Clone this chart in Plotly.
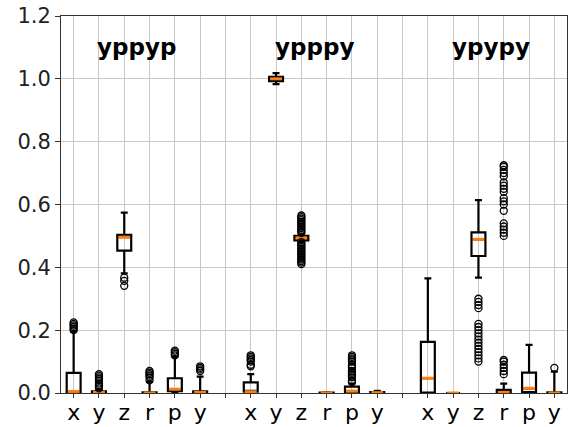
import plotly.graph_objects as go

group_names = ["yppyp", "ypppy", "ypypy"]
var_labels = ["x", "y", "z", "r", "p", "y"]

# 18 boxes: 3 groups x 6 variables
q1 = [0.0, 0.0, 0.453, 0.0, 0.006, 0.0,
      0.004, 0.993, 0.486, 0.0, 0.001, 0.0,
      0.001, 0.0, 0.436, 0.0, 0.003, 0.0]
median = [0.005, 0.002, 0.496, 0.0, 0.012, 0.002,
          0.004, 1.0, 0.494, 0.0, 0.006, 0.001,
          0.047, 0.0, 0.489, 0.002, 0.015, 0.0]
q3 = [0.064, 0.005, 0.503, 0.002, 0.047, 0.005,
      0.034, 1.006, 0.5, 0.001, 0.02, 0.003,
      0.163, 0.0, 0.511, 0.01, 0.065, 0.002]
lowerfence = [0.0, 0.0, 0.381, 0.0, 0.0, 0.0,
              0.0, 0.983, 0.48, 0.0, 0.0, 0.0,
              0.0, 0.0, 0.367, 0.0, 0.0, 0.0]
upperfence = [0.195, 0.012, 0.574, 0.035, 0.115, 0.052,
              0.06, 1.018, 0.505, 0.002, 0.03, 0.007,
              0.365, 0.0, 0.614, 0.03, 0.153, 0.068]
outliers = [
    [0.2, 0.205, 0.21, 0.215, 0.22, 0.225],
    [0.015, 0.02, 0.025, 0.03, 0.04, 0.045, 0.05, 0.055, 0.06],
    [0.367, 0.357, 0.341],
    [0.04, 0.05, 0.055, 0.06, 0.065, 0.07],
    [0.12, 0.125, 0.13, 0.135],
    [0.07, 0.075, 0.08, 0.085],
    [0.085, 0.09, 0.1, 0.105, 0.11, 0.115, 0.12],
    [],
    [0.41, 0.415, 0.42, 0.425, 0.43, 0.435, 0.44, 0.445, 0.45, 0.455, 0.46,
     0.465, 0.47, 0.475, 0.48, 0.51, 0.515, 0.52, 0.525, 0.53, 0.535, 0.54,
     0.545, 0.55, 0.555, 0.56, 0.565],
    [],
    [0.035, 0.04, 0.05, 0.055, 0.06, 0.065, 0.07, 0.08, 0.085, 0.09, 0.1,
     0.105, 0.11, 0.115, 0.12],
    [],
    [],
    [],
    [0.1, 0.11, 0.12, 0.13, 0.14, 0.15, 0.16, 0.17, 0.18, 0.19, 0.2, 0.21,
     0.22, 0.27, 0.28, 0.29, 0.3],
    [0.06, 0.07, 0.08, 0.09, 0.1, 0.105, 0.5, 0.51, 0.52, 0.53, 0.54, 0.58,
     0.6, 0.61, 0.62, 0.64, 0.65, 0.66, 0.67, 0.69, 0.7, 0.71, 0.72, 0.725],
    [],
    [0.08],
]

# positions: each group of 6 followed by an empty slot
positions = [g * 7 + i for g in range(3) for i in range(6)]
tickvals = list(range(20))
ticktext = []
for g in range(3):
    ticktext += var_labels
    if g < 2:
        ticktext.append("")

BW = 0.55
fig = go.Figure()
fig.add_trace(go.Box(
    x=positions, q1=q1, median=median, q3=q3,
    lowerfence=lowerfence, upperfence=upperfence,
    width=BW, whiskerwidth=0.5, boxpoints=False,
    line=dict(color="black", width=2.2), fillcolor="rgba(0,0,0,0)",
    showlegend=False, hoverinfo="skip",
))

# median lines in orange
mx, my = [], []
for p, m in zip(positions, median):
    mx += [p - BW / 2 + 0.04, p + BW / 2 - 0.04, None]
    my += [m, m, None]
fig.add_trace(go.Scatter(x=mx, y=my, mode="lines",
                         line=dict(color="#ff7f0e", width=3),
                         showlegend=False, hoverinfo="skip"))

# fliers
ox, oy = [], []
for p, vals in zip(positions, outliers):
    ox += [p] * len(vals)
    oy += vals
fig.add_trace(go.Scatter(x=ox, y=oy, mode="markers",
                         marker=dict(symbol="circle-open", size=7,
                                     color="black", line=dict(width=1.3)),
                         showlegend=False, hoverinfo="skip"))

for g, name in enumerate(group_names):
    fig.add_annotation(x=g * 7 + 2.5, y=1.1, text="<b>" + name + "</b>",
                       showarrow=False, xref="x", yref="y",
                       font=dict(family="DejaVu Sans", size=23, color="black"))

fig.update_layout(
    width=573, height=427,
    margin=dict(l=61, r=6, t=16, b=34, autoexpand=False),
    plot_bgcolor="white", paper_bgcolor="white",
    font=dict(family="DejaVu Sans", color="#222"),
)
fig.update_xaxes(
    range=[-0.5, 19.5], tickvals=tickvals, ticktext=ticktext,
    showgrid=True, gridcolor="#c8c8c8", gridwidth=1,
    showline=True, mirror=True, linecolor="#333", linewidth=1,
    ticks="outside", ticklen=4, tickcolor="#333",
    tickfont=dict(size=22, color="black"), zeroline=False,
    ticklabelstandoff=-4, automargin=False,
)
fig.update_yaxes(
    range=[0, 1.2], tickvals=[0, 0.2, 0.4, 0.6, 0.8, 1.0, 1.2],
    ticktext=["0.0", "0.2", "0.4", "0.6", "0.8", "1.0", "1.2"],
    showgrid=True, gridcolor="#c8c8c8", gridwidth=1,
    showline=True, mirror=True, linecolor="#333", linewidth=1,
    ticks="outside", ticklen=5, tickcolor="#333",
    tickfont=dict(size=21, color="#222"), zeroline=False,
    automargin=False,
)

fig.write_html("out.html", config={"displayModeBar": False},
               post_script="document.body.style.margin='0';document.body.style.overflow='hidden';")
